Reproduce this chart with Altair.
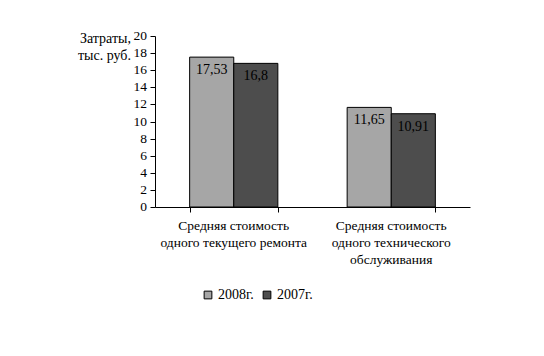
import altair as alt
import pandas as pd

categories = ["Средняя стоимость|одного текущего ремонта",
              "Средняя стоимость|одного технического|обслуживания"]
years = ["2008г.", "2007г."]
values_2008 = [17.53, 11.65]
values_2007 = [16.8, 10.91]
labels_2008 = ["17,53", "11,65"]
labels_2007 = ["16,8", "10,91"]
y_ticks = list(range(0, 21, 2))
y_title = "Затраты,|тыс. руб."

rows = []
for i, c in enumerate(categories):
    rows.append({"cat": c, "year": years[0], "value": values_2008[i], "label": labels_2008[i]})
    rows.append({"cat": c, "year": years[1], "value": values_2007[i], "label": labels_2007[i]})
df = pd.DataFrame(rows)
df_cat = pd.DataFrame({"cat": categories})
df_ticks = pd.DataFrame({"value": y_ticks, "label": [str(v) for v in y_ticks]})
df_title = pd.DataFrame({"t": [y_title]})

FONT = "Liberation Serif"

xscale = alt.Scale(domain=categories, paddingInner=0.44, paddingOuter=0.22)
yscale = alt.Scale(domain=[0, 20], nice=False)
xaxis = alt.Axis(labels=False, title=None, tickBand="extent", grid=False,
                 tickSize=5, tickColor="black", domainColor="black",
                 domain=True, ticks=True)
yaxis = alt.Axis(values=y_ticks, grid=False, labels=False, title=None,
                 tickSize=5, tickColor="black", domainColor="black",
                 domain=True, ticks=True)


def X():
    return alt.X("cat:N", sort=categories, title=None, scale=xscale, axis=xaxis)


def Y():
    return alt.Y("value:Q", title=None, scale=yscale, axis=yaxis)


xo = alt.XOffset("year:N", sort=years)

color = alt.Color("year:N", sort=years,
                  scale=alt.Scale(domain=years, range=["#a6a6a6", "#4d4d4d"]),
                  legend=alt.Legend(title=None, orient="none", direction="horizontal",
                                    legendX=46, legendY=252, symbolType="square",
                                    symbolSize=60, symbolStrokeColor="black",
                                    symbolStrokeWidth=1, labelFont=FONT,
                                    labelFontSize=14, labelColor="black",
                                    columnPadding=6, labelOffset=3))

bars = alt.Chart(df).mark_bar(stroke="black", strokeWidth=1).encode(
    x=X(), xOffset=xo, y=Y(), color=color)

text = alt.Chart(df).mark_text(baseline="top", dy=6, font=FONT, fontSize=14,
                               color="black").encode(
    x=X(), xOffset=xo, y=Y(), text="label:N")

ytick_labels = alt.Chart(df_ticks).mark_text(
    align="right", baseline="middle", font=FONT, fontSize=13.5, color="black",
    dx=-8).encode(
    x=alt.value(0), y=Y(), text="label:N")

cat_labels = alt.Chart(df_cat).mark_text(
    align="center", baseline="top", font=FONT, fontSize=13.5, color="black",
    lineBreak="|", lineHeight=17, dy=12).encode(
    x=X(), y=alt.value(171), text="cat:N")

title = alt.Chart(df_title).mark_text(
    align="right", baseline="alphabetic", font=FONT, fontSize=14, color="black",
    lineBreak="|", lineHeight=17).encode(
    x=alt.value(-24), y=alt.value(7), text="t:N")

chart = alt.layer(bars, text, ytick_labels, cat_labels, title).properties(
    width=315, height=171,
    autosize=alt.AutoSizeParams(type="none"),
    padding={"left": 147, "top": 28, "right": 66, "bottom": 120},
    background="white",
).configure_view(strokeWidth=0, stroke=None)

chart.save("out.html", embed_options={"renderer": "svg", "actions": False})
